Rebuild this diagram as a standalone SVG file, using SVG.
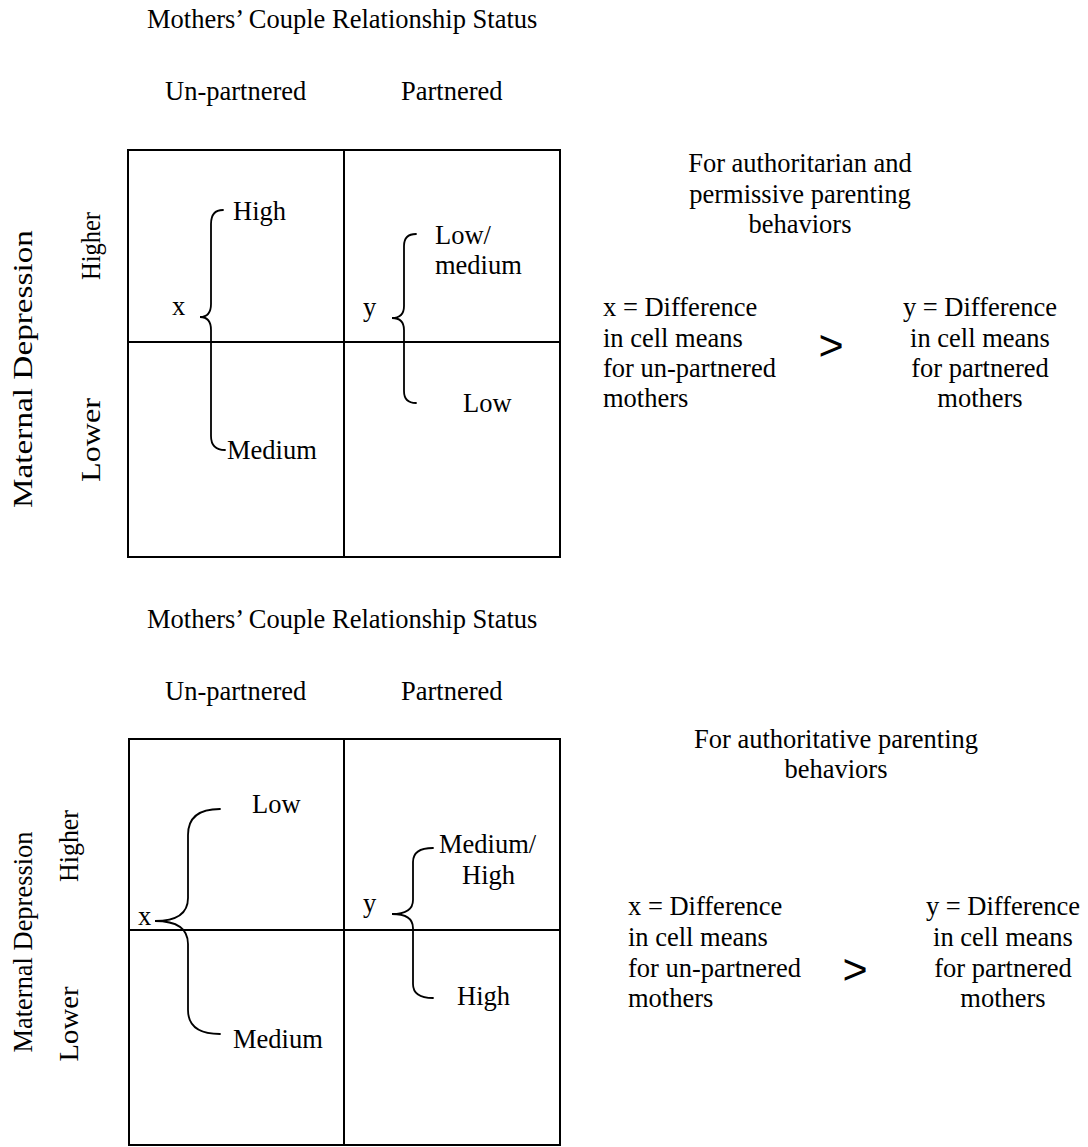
<svg xmlns="http://www.w3.org/2000/svg" width="1088" height="1147" viewBox="0 0 1088 1147">
<style>
text{font-family:"Liberation Serif","Times New Roman",serif;font-size:26.5px;fill:#000}
.mid{text-anchor:middle}
.gt{font-family:"Liberation Sans",Arial,sans-serif;font-size:43px;text-anchor:middle}
.box{fill:none;stroke:#000;stroke-width:2}
.brace{fill:none;stroke:#000;stroke-width:1.8;stroke-linecap:round}
</style>
<rect width="1088" height="1147" fill="#fff"/>

<g id="panel1">
  <g id="p1-title">
    <text x="147" y="28">Mothers’ Couple Relationship Status</text>
    <text x="165" y="100">Un-partnered</text>
    <text x="401" y="100">Partnered</text>
  </g>
  <g id="p1-axis">
    <text class="mid" transform="translate(32,369) rotate(-90)" font-size="30" textLength="278" lengthAdjust="spacingAndGlyphs">Maternal Depression</text>
    <text class="mid" transform="translate(100,246) rotate(-90)" textLength="68" lengthAdjust="spacingAndGlyphs">Higher</text>
    <text class="mid" transform="translate(100,440) rotate(-90)" textLength="84" lengthAdjust="spacingAndGlyphs">Lower</text>
  </g>
  <g id="p1-grid">
    <rect class="box" x="128" y="150" width="432" height="407"/>
    <line class="box" x1="344" y1="150" x2="344" y2="557"/>
    <line class="box" x1="128" y1="342" x2="560" y2="342"/>
  </g>
  <g id="p1-cells">
    <text x="233" y="220">High</text>
    <text x="227" y="459">Medium</text>
    <text x="172" y="315">x</text>
    <text x="363" y="316">y</text>
    <text x="435" y="244">Low/</text>
    <text x="435" y="274">medium</text>
    <text x="463" y="412">Low</text>
  </g>
  <g id="p1-legend">
    <text class="mid" x="800" y="172">For authoritarian and</text>
    <text class="mid" x="800" y="203">permissive parenting</text>
    <text class="mid" x="800" y="233">behaviors</text>
    <text x="603" y="316">x = Difference</text>
    <text x="603" y="347">in cell means</text>
    <text x="603" y="377">for un-partnered</text>
    <text x="603" y="407">mothers</text>
    <text class="gt" x="831" y="360">&gt;</text>
    <text class="mid" x="980" y="316">y = Difference</text>
    <text class="mid" x="980" y="347">in cell means</text>
    <text class="mid" x="980" y="377">for partnered</text>
    <text class="mid" x="980" y="407">mothers</text>
  </g>
</g>

<g id="panel2">
  <g id="p2-title">
    <text x="147" y="628">Mothers’ Couple Relationship Status</text>
    <text x="165" y="700">Un-partnered</text>
    <text x="401" y="700">Partnered</text>
  </g>
  <g id="p2-axis">
    <text class="mid" transform="translate(32,942) rotate(-90)" font-size="28" textLength="221" lengthAdjust="spacingAndGlyphs">Maternal Depression</text>
    <text class="mid" transform="translate(78,846) rotate(-90)" textLength="72" lengthAdjust="spacingAndGlyphs">Higher</text>
    <text class="mid" transform="translate(78,1024) rotate(-90)" textLength="75" lengthAdjust="spacingAndGlyphs">Lower</text>
  </g>
  <g id="p2-grid">
    <rect class="box" x="129" y="739" width="431" height="406"/>
    <line class="box" x1="344" y1="739" x2="344" y2="1145"/>
    <line class="box" x1="128" y1="930" x2="560" y2="930"/>
  </g>
  <g id="p2-cells">
    <text x="252" y="813">Low</text>
    <text x="233" y="1048">Medium</text>
    <text x="138" y="925">x</text>
    <text x="363" y="912">y</text>
    <text x="439" y="853">Medium/</text>
    <text x="462" y="884">High</text>
    <text x="457" y="1005">High</text>
  </g>
  <g id="p2-legend">
    <text class="mid" x="836" y="748">For authoritative parenting</text>
    <text class="mid" x="836" y="778">behaviors</text>
    <text x="628" y="915">x = Difference</text>
    <text x="628" y="946">in cell means</text>
    <text x="628" y="977">for un-partnered</text>
    <text x="628" y="1007">mothers</text>
    <text class="gt" x="855" y="984">&gt;</text>
    <text class="mid" x="1003" y="915">y = Difference</text>
    <text class="mid" x="1003" y="946">in cell means</text>
    <text class="mid" x="1003" y="977">for partnered</text>
    <text class="mid" x="1003" y="1007">mothers</text>
  </g>
</g>

<g id="connectors">
  <path id="brace-p1-x" class="brace" d="M223,210 Q211,210 211,224 L211,304 Q211,317 200,317 Q211,317 211,330 L211,436 Q211,450 225,450"/>
  <path id="brace-p1-y" class="brace" d="M416,234 Q404,234 404,246 L404,306 Q404,318 392,318 Q404,318 404,330 L404,391 Q404,403 416,403"/>
  <path id="brace-p2-x" class="brace" d="M220,809 Q188,809 188,835 L188,898 Q188,921 155,921 Q188,921 188,944 L188,1010 Q188,1034 220,1034"/>
  <path id="brace-p2-y" class="brace" d="M433,848 Q413,848 413,862 L413,900 Q413,914 392,914 Q413,914 413,928 L413,984 Q413,998 433,998"/>
</g>
</svg>
